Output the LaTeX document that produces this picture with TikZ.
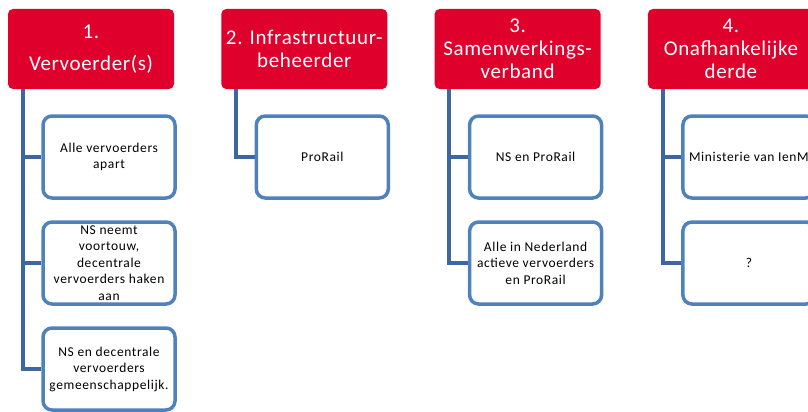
\documentclass[tikz,border=0pt]{standalone}
\usepackage{fontspec}
\setmainfont{Carlito}
\newfontfamily\headfont[LetterSpace=3]{Carlito}
\newfontfamily\itemfont[LetterSpace=4.5]{Carlito}
\definecolor{headred}{RGB}{224,0,44}
\definecolor{boxblue}{RGB}{79,129,189}
\definecolor{lineblue}{RGB}{62,102,160}

\begin{document}
\begin{tikzpicture}[
        x=1pt, y=1pt,
        head/.style={rectangle, rounded corners=5pt, fill=headred, text=white, align=center,
            minimum width=166pt, minimum height=80pt, inner sep=0pt,
            font=\headfont\fontsize{21}{23}\selectfont},
        item/.style={rectangle, rounded corners=9pt, draw=boxblue, line width=3.5pt, fill=white,
            align=center, minimum width=132pt, minimum height=82pt, inner sep=0pt,
            font=\itemfont\fontsize{13.5}{16.5}\selectfont},
        link/.style={draw=lineblue, line width=4pt}
    ]
    \def\colsep{213.3} % horizontal distance between columns
    \def\rowsep{106}   % vertical distance between boxes

    \clip (0,0) rectangle (808,-412);

    % Column headers
    \foreach \i/\txt in {1/{1.\\[9pt]Vervoerder(s)}, 2/{2. Infrastructuur-\\beheerder},
            3/{3.\\Samenwerkings-\\verband}, 4/{4.\\Onafhankelijke\\derde}} {
        \node[head] (h\i) at ({91+(\i-1)*\colsep}, -49) {\txt};
    }

    % Options below each header
    \foreach \i/\j/\txt in {1/1/{Alle vervoerders\\apart},
            1/2/{NS neemt\\voortouw,\\decentrale\\vervoerders haken\\aan},
            1/3/{NS en decentrale\\vervoerders\\gemeenschappelijk.},
            2/1/{ProRail}, 3/1/{NS en ProRail},
            3/2/{Alle in Nederland\\actieve vervoerders\\en ProRail},
            4/1/{Ministerie van IenM}, 4/2/{?}} {
        \node[item] (c\i\j) at ({109+(\i-1)*\colsep}, {-157-(\j-1)*\rowsep}) {\txt};
        % Line from header down to the box
        \draw[link] ([xshift=15pt]h\i.south west) |- (c\i\j.west);
    }
\end{tikzpicture}
\end{document}
